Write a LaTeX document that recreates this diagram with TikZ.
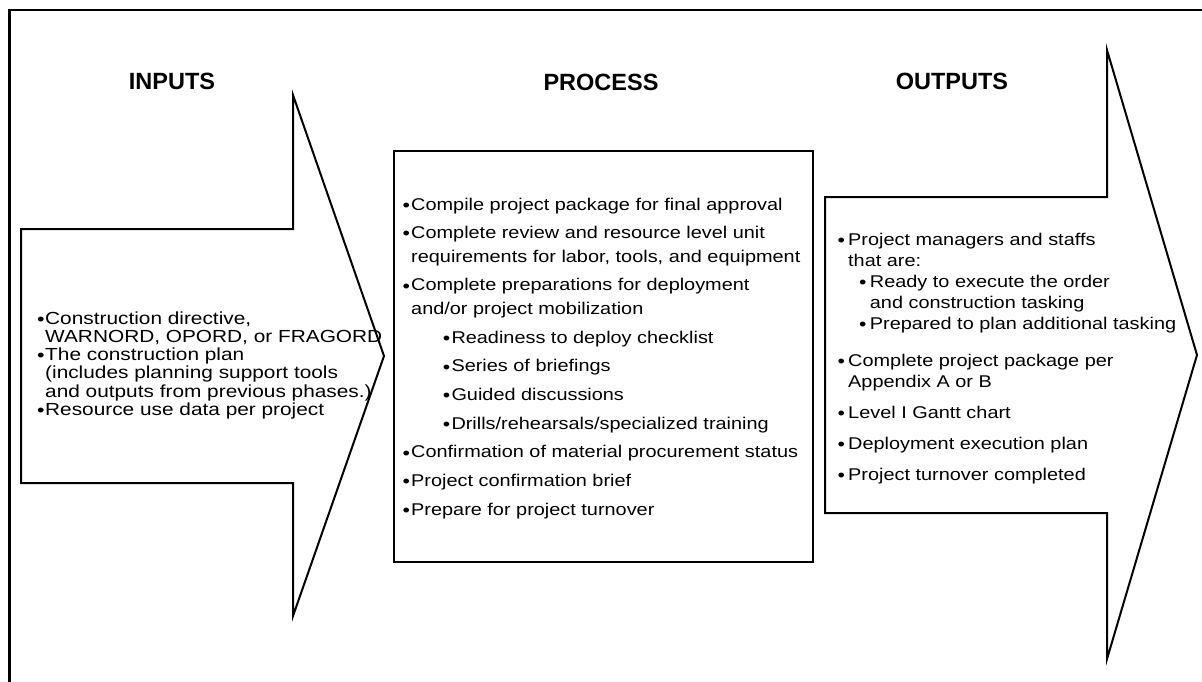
\documentclass[tikz,border=0pt]{standalone}
\usepackage{fontspec}
\setmainfont{Liberation Sans}
\newfontfamily\bodyfont[FakeStretch=1.17]{Liberation Sans}
\newfontfamily\inputsfont[FakeStretch=1.19]{Liberation Sans}
\usetikzlibrary{positioning}

\newlength\bulw
\newlength\subin
\newcommand\bdot{\makebox[5pt]{\raisebox{-1.2pt}{\fontsize{18}{18}\selectfont\textbullet}}}
\newcommand\gap[1]{\par\vspace{#1}}
\newcommand\itm[1]{\par\noindent\hangindent=\bulw\hangafter=1\makebox[\bulw][l]{\bdot}#1}
\newcommand\subitm[1]{\par\noindent\hangindent=\dimexpr\subin+\bulw\relax\hangafter=1\hspace*{\subin}\makebox[\bulw][l]{\bdot}#1}

\begin{document}
\begin{tikzpicture}[
  x=1pt, y=-1pt,
  title/.style = {font=\bfseries\fontsize{23.5}{28}\selectfont, inner sep=0, anchor=base},
  outline/.style = {draw, line width=2pt},
  list/.style = {inner sep=0, anchor=base west}
  ]
  \clip (0,0) rectangle (1202,681);

  % frame
  \draw[line width=2.6pt] (9.5,700) -- (9.5,10) -- (1220,10);

  % Inputs
  \draw[outline] (21,229) -- (293,229) -- (293,95) -- (384,356) -- (293,616)
    -- (293,483) -- (21,483) -- cycle;
  \node[title] (intitle) at (172,89) {INPUTS};
  \node[list] (inlist) at (38.2,324) {\parbox[t]{345pt}{\inputsfont
    \fontsize{17.5}{18.3}\selectfont\raggedright\setlength\bulw{6.8pt}
    \itm{Construction directive,\newline WARNORD, OPORD, or FRAGORD}
    \itm{The construction plan\newline (includes planning support tools\newline
      and outputs from previous phases.)}
    \itm{Resource use data per project}}};

  % Process
  \node[outline, minimum width=419, minimum height=411, anchor=north west] (procbox) at (393,150) {};
  \node[title] (proctitle) at (601,90) {PROCESS};
  \node[list] (proclist) at (403.5,210) {\parbox[t]{405pt}{\bodyfont
    \fontsize{17}{23.5}\selectfont\raggedright\setlength\parskip{5.2pt}%
    \setlength\bulw{7.5pt}\setlength\subin{40.3pt}
    \itm{Compile project package for final approval}
    \itm{Complete review and resource level unit\newline
      requirements for labor, tools, and equipment}
    \itm{Complete preparations for deployment\newline and/or project mobilization}
    \subitm{Readiness to deploy checklist}
    \subitm{Series of briefings}
    \subitm{Guided discussions}
    \subitm{Drills/rehearsals/specialized training}
    \itm{Confirmation of material procurement status}
    \itm{Project confirmation brief}
    \itm{Prepare for project turnover}}};

  % Outputs
  \draw[outline] (825,197) -- (1107,197) -- (1107,50) -- (1197,355) -- (1107,659)
    -- (1107,513) -- (825,513) -- cycle;
  \node[title] (outtitle) at (952,89) {OUTPUTS};
  \node[list] (outlist) at (838.5,245) {\parbox[t]{355pt}{\bodyfont
    \fontsize{17}{21}\selectfont\raggedright
    \setlength\bulw{9.5pt}\setlength\subin{21.7pt}
    \itm{Project managers and staffs\newline that are:}
    \subitm{Ready to execute the order\newline and construction tasking}
    \subitm{Prepared to plan additional tasking}
    \gap{16pt}\itm{Complete project package per\newline Appendix A or B}
    \gap{10pt}\itm{Level I Gantt chart}
    \gap{10pt}\itm{Deployment execution plan}
    \gap{10pt}\itm{Project turnover completed}}};

\end{tikzpicture}
\end{document}
